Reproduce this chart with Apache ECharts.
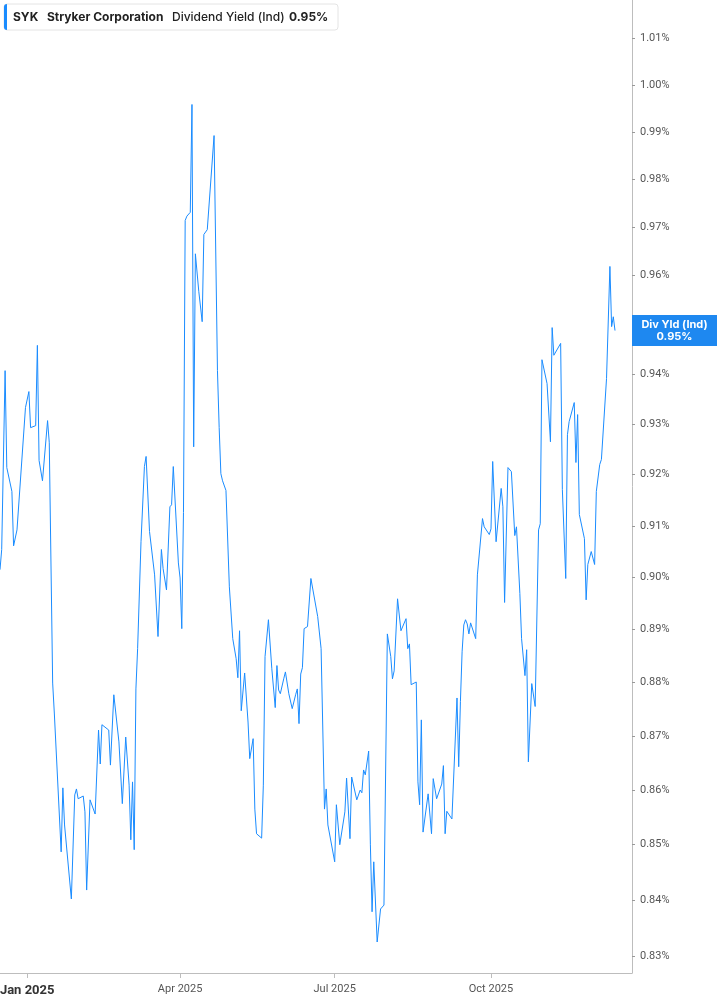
<!DOCTYPE html>
<html>
<head>
<meta charset="utf-8">
<script src="https://cdn.jsdelivr.net/npm/echarts@6/dist/echarts.min.js"></script>
<style>
  html, body { margin: 0; padding: 0; background: #fff; }
  #chart { width: 717px; height: 1005px; }
</style>
</head>
<body>
<div id="chart"></div>
<script>
// SYK dividend yield (Ind), in percent
const dates = [
  '2024-12-16','2024-12-17','2024-12-19','2024-12-20','2024-12-23','2024-12-24','2024-12-26','2024-12-31',
  '2025-01-02','2025-01-03','2025-01-06','2025-01-07','2025-01-08','2025-01-10','2025-01-13','2025-01-14',
  '2025-01-16','2025-01-17','2025-01-21','2025-01-22','2025-01-23','2025-01-27','2025-01-29','2025-01-30',
  '2025-01-31','2025-02-03','2025-02-04','2025-02-05','2025-02-07','2025-02-10','2025-02-12','2025-02-13',
  '2025-02-14','2025-02-18','2025-02-19','2025-02-21','2025-02-24','2025-02-26','2025-02-28','2025-03-02',
  '2025-03-03','2025-03-04','2025-03-05','2025-03-06','2025-03-07','2025-03-09','2025-03-11','2025-03-12',
  '2025-03-13','2025-03-14','2025-03-17','2025-03-19','2025-03-21','2025-03-22','2025-03-24','2025-03-26',
  '2025-03-27','2025-03-28','2025-03-31','2025-04-01','2025-04-02','2025-04-03','2025-04-04','2025-04-05',
  '2025-04-07','2025-04-08','2025-04-09','2025-04-10','2025-04-12','2025-04-14','2025-04-15','2025-04-17',
  '2025-04-21','2025-04-23','2025-04-24','2025-04-25','2025-04-26','2025-04-28','2025-04-30','2025-05-01',
  '2025-05-02','2025-05-04','2025-05-05','2025-05-06','2025-05-07','2025-05-09','2025-05-11','2025-05-12',
  '2025-05-14','2025-05-15','2025-05-16','2025-05-19','2025-05-20','2025-05-21','2025-05-23','2025-05-25',
  '2025-05-27','2025-05-28','2025-05-29','2025-05-30','2025-06-01','2025-06-02','2025-06-03','2025-06-04',
  '2025-06-06','2025-06-08','2025-06-09','2025-06-10','2025-06-11','2025-06-12','2025-06-13','2025-06-15',
  '2025-06-16','2025-06-17','2025-06-18','2025-06-21','2025-06-23','2025-06-24','2025-06-25','2025-06-26',
  '2025-06-27','2025-07-01','2025-07-02','2025-07-04','2025-07-07','2025-07-08','2025-07-10','2025-07-11',
  '2025-07-14','2025-07-16','2025-07-17','2025-07-18','2025-07-19','2025-07-21','2025-07-22','2025-07-23',
  '2025-07-24','2025-07-26','2025-07-28','2025-07-30','2025-08-01','2025-08-03','2025-08-04','2025-08-05',
  '2025-08-07','2025-08-09','2025-08-12','2025-08-13','2025-08-14','2025-08-15','2025-08-18','2025-08-19',
  '2025-08-20','2025-08-21','2025-08-22','2025-08-25','2025-08-27','2025-08-28','2025-08-30','2025-09-02',
  '2025-09-03','2025-09-04','2025-09-05','2025-09-08','2025-09-09','2025-09-11','2025-09-12','2025-09-13',
  '2025-09-14','2025-09-15','2025-09-16','2025-09-17','2025-09-18','2025-09-19','2025-09-22','2025-09-23',
  '2025-09-26','2025-09-27','2025-09-30','2025-10-01','2025-10-02','2025-10-04','2025-10-07','2025-10-08',
  '2025-10-09','2025-10-11','2025-10-13','2025-10-15','2025-10-16','2025-10-18','2025-10-19','2025-10-21',
  '2025-10-22','2025-10-23','2025-10-25','2025-10-27','2025-10-29','2025-10-30','2025-10-31','2025-11-03',
  '2025-11-05','2025-11-06','2025-11-07','2025-11-11','2025-11-12','2025-11-14','2025-11-15','2025-11-16',
  '2025-11-19','2025-11-20','2025-11-21','2025-11-22','2025-11-25','2025-11-26','2025-11-27','2025-11-29',
  '2025-12-01','2025-12-02','2025-12-04','2025-12-05','2025-12-08','2025-12-10','2025-12-11','2025-12-12',
  '2025-12-13'
];

const yields = [
  0.9015,0.9054,0.9407,0.9214,0.9167,0.9061,0.9092,0.9333,
  0.9365,0.9293,0.9297,0.9458,0.9228,0.9188,0.9307,0.9263,
  0.8799,0.8741,0.8487,0.8604,0.8536,0.8402,0.8591,0.8602,
  0.8584,0.8589,0.8560,0.8418,0.8582,0.8556,0.8711,0.8648,
  0.8721,0.8711,0.8646,0.8777,0.8689,0.8575,0.8698,0.8609,
  0.8509,0.8615,0.8491,0.8788,0.8864,0.9069,0.9216,0.9236,
  0.9238,0.9089,0.9005,0.8887,0.9054,0.9017,0.8976,0.9137,
  0.9141,0.9216,0.9028,0.8999,0.8902,0.9126,0.9714,0.9723,
  0.9731,0.9958,0.9255,0.9645,0.9568,0.9506,0.9685,0.9695,
  0.9892,0.9407,0.9293,0.9202,0.9188,0.9169,0.8982,0.8982,
  0.8883,0.8845,0.8809,0.8898,0.8747,0.8818,0.8726,0.8658,
  0.8695,0.8565,0.8520,0.8512,0.8609,0.8849,0.8919,0.8826,
  0.8753,0.8832,0.8786,0.8779,0.8807,0.8820,0.8818,0.8779,
  0.8751,0.8777,0.8788,0.8723,0.8816,0.8828,0.8902,0.8906,
  0.8909,0.8998,0.8999,0.8925,0.8864,0.8862,0.8565,0.8602,
  0.8536,0.8469,0.8573,0.8500,0.8560,0.8622,0.8511,0.8624,
  0.8582,0.8600,0.8595,0.8637,0.8628,0.8672,0.8501,0.8379,
  0.8469,0.8325,0.8384,0.8391,0.8892,0.8849,0.8807,0.8822,
  0.8959,0.8898,0.8921,0.8864,0.8873,0.8796,0.8801,0.8615,
  0.8573,0.8730,0.8523,0.8593,0.8520,0.8621,0.8584,0.8611,
  0.8645,0.8520,0.8561,0.8547,0.8550,0.8771,0.8643,0.8764,
  0.8858,0.8909,0.8919,0.8911,0.8892,0.8913,0.8883,0.9005,
  0.9114,0.9098,0.9083,0.9094,0.9226,0.9069,0.9173,0.9137,
  0.8952,0.9214,0.9206,0.9081,0.9098,0.8969,0.8883,0.8813,
  0.8862,0.8652,0.8798,0.8755,0.9092,0.9104,0.9429,0.9381,
  0.9265,0.9494,0.9438,0.9462,0.9171,0.8998,0.9279,0.9305,
  0.9343,0.9224,0.9319,0.9122,0.9075,0.8957,0.9025,0.9050,
  0.9025,0.9167,0.9220,0.9230,0.9391,0.9619,0.9496,0.9516,
  0.9488
];

const yTicks = [0.83,0.84,0.85,0.86,0.87,0.88,0.89,0.90,0.91,0.92,0.93,0.94,0.95,0.96,0.97,0.98,0.99,1.00,1.01];
const xTickDates = ['2025-01-01','2025-04-01','2025-07-01','2025-10-01'];
const xTickLabels = ['Jan 2025','Apr 2025','Jul 2025','Oct 2025'];
const xRange = ['2024-12-16','2025-12-23'];
const yRange = [0.8270, 1.0183];   // visible span of the (log) value axis
const header = ['SYK', 'Stryker Corporation', 'Dividend Yield (Ind)'];

const BLUE = '#1a8cff';
const ts = d => new Date(d + 'T00:00:00').getTime();
const lastVal = yields[yields.length - 1];

const chart = echarts.init(document.getElementById('chart'));

// x: dates as timestamps on a value axis; y: log scale, so plot ln(value) and label back in %
const seriesData = dates.map((d, i) => [ts(d), Math.log(yields[i])]);
const xTicks = xTickDates.map(ts);
const yTickPos = yTicks.map(Math.log);

chart.setOption({
  animation: false,
  backgroundColor: '#fff',
  textStyle: { fontFamily: 'Inter, Roboto, sans-serif' },
  grid: { left: 0, right: 85, top: 0, bottom: 32, outerBoundsMode: 'none', containLabel: false },
  xAxis: {
    type: 'value',
    min: ts(xRange[0]),
    max: ts(xRange[1]),
    axisLine: { show: true, onZero: false, lineStyle: { color: '#bdbdbd', width: 1 } },
    axisTick: { show: true, length: 5, lineStyle: { color: '#bdbdbd' }, customValues: xTicks },
    splitLine: { show: false },
    axisLabel: {
      customValues: xTicks,
      margin: 11,
      color: '#555',
      fontSize: 11,
      fontFamily: 'Roboto, sans-serif',
      formatter: (v) => {
        const i = xTicks.findIndex(t => Math.abs(t - v) < 43200000);
        const s = i >= 0 ? xTickLabels[i] : '';
        return i === 0 ? '{b|' + s + '}' : s;
      },
      rich: { b: { fontWeight: 'bold', fontSize: 13, color: '#333', fontFamily: 'Roboto, sans-serif' } }
    }
  },
  yAxis: {
    type: 'value',
    position: 'right',
    min: Math.log(yRange[0]),
    max: Math.log(yRange[1]),
    axisLine: { show: true, onZero: false, lineStyle: { color: '#bdbdbd', width: 1 } },
    axisTick: { show: true, length: 3, lineStyle: { color: '#999' }, customValues: yTickPos },
    splitLine: { show: false },
    axisLabel: {
      customValues: yTickPos,
      margin: 8,
      color: '#555',
      fontSize: 11,
      fontFamily: 'Roboto, sans-serif',
      formatter: (v) => Math.exp(v).toFixed(2) + '%'
    }
  },
  series: [{
    type: 'line',
    data: seriesData,
    showSymbol: false,
    clip: false,
    lineStyle: { color: BLUE, width: 1 },
    itemStyle: { color: BLUE },
    markPoint: {
      symbol: 'rect',
      symbolSize: [85, 31],
      symbolOffset: [42.5, 0],
      itemStyle: { color: '#1e88f0' },
      label: {
        show: true,
        position: 'inside',
        color: '#fff',
        fontSize: 11,
        fontWeight: 'bold',
        lineHeight: 12,
        fontFamily: 'Inter, Roboto, sans-serif',
        formatter: 'Div Yld (Ind)\n' + lastVal.toFixed(2) + '%'
      },
      data: [{ coord: [ts(xRange[1]), Math.log(lastVal)] }]
    }
  }],
  graphic: [
    { type: 'rect', x: 4, y: 4, shape: { width: 334, height: 26, r: 3 },
      style: { fill: '#fff', stroke: '#e4e4e4', lineWidth: 1 } },
    { type: 'rect', x: 4, y: 4, shape: { width: 3, height: 26, r: [3, 0, 0, 3] },
      style: { fill: BLUE } },
    { type: 'text', x: 13, y: 17,
      style: { text: header[0], fill: '#222', font: 'bold 12px Inter, sans-serif', verticalAlign: 'middle' } },
    { type: 'text', x: 47, y: 17,
      style: { text: header[1], fill: '#222', font: 'bold 12px Inter, sans-serif', verticalAlign: 'middle' } },
    { type: 'text', x: 172, y: 17,
      style: { text: header[2], fill: '#222', font: '500 12px Inter, sans-serif', verticalAlign: 'middle' } },
    { type: 'text', x: 289, y: 17,
      style: { text: lastVal.toFixed(2) + '%', fill: '#222', font: 'bold 12px Inter, sans-serif', verticalAlign: 'middle' } }
  ]
});
</script>
</body>
</html>
